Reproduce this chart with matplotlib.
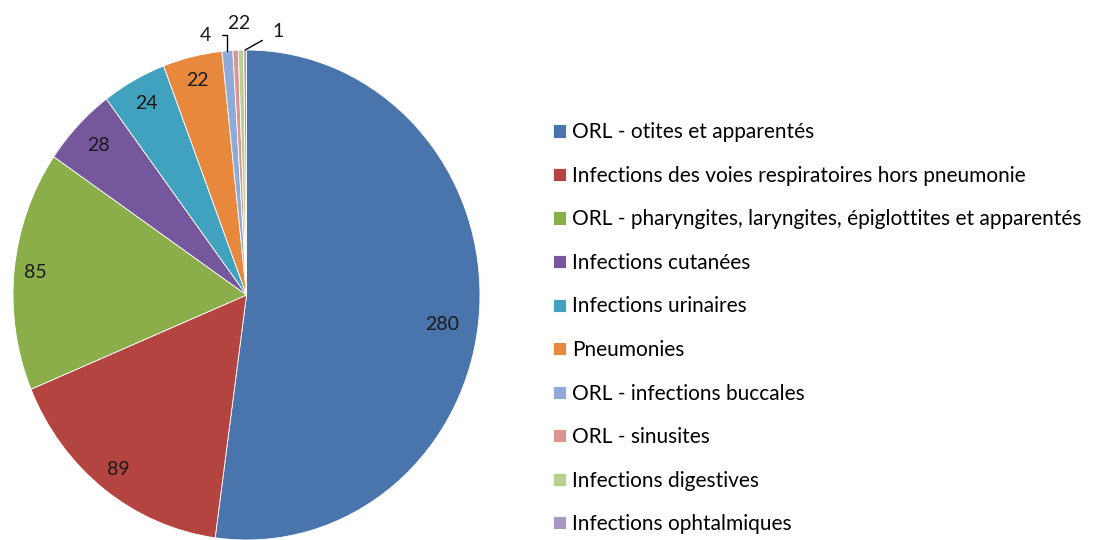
import matplotlib.pyplot as plt
import numpy as np

labels = ['ORL - otites et apparentés',
          'Infections des voies respiratoires hors pneumonie',
          'ORL - pharyngites, laryngites, épiglottites et apparentés',
          'Infections cutanées',
          'Infections urinaires',
          'Pneumonies',
          'ORL - infections buccales',
          'ORL - sinusites',
          'Infections digestives',
          'Infections ophtalmiques']
values = [280, 89, 85, 28, 24, 22, 4, 2, 2, 1]
colors = ['#4A74AC', '#B3443F', '#8CAE4A', '#74579C', '#40A2BE', '#E8883D',
          '#8FAAD6', '#D89593', '#BACF8F', '#A898C4']

plt.rcParams['font.family'] = ['Lato', 'DejaVu Sans']

fig = plt.figure(figsize=(11.01, 5.4), dpi=100)
ax = fig.add_axes([0, 0, 500 / 1101, 1])

wedges, _ = ax.pie(values, colors=colors, startangle=90, counterclock=False,
                   wedgeprops=dict(edgecolor='white', linewidth=0.6))

# pie is drawn slightly taller than wide in the reference
rx, ry = 233.5, 245.0
ax.set_aspect('auto')
ax.set_xlim(-246.5 / rx, (500 - 246.5) / rx)
ax.set_ylim(-245 / ry, 295 / ry)
ax.axis('off')

# inside labels: (radius, angle shift in degrees)
place = [(0.845, -4.2), (0.9, 0), (0.91, 0), (0.88, 0), (0.89, 0), (0.9, 0)]
for w, v, (d, sh) in zip(wedges, values, place):
    a = np.deg2rad((w.theta1 + w.theta2) / 2 + sh)
    ax.text(d * np.cos(a), d * np.sin(a), str(v), ha='center', va='center',
            fontsize=14, color='#1a1a1a')

# small slices labelled outside
out = [(-0.175, 1.06), (-0.058, 1.11), (-0.012, 1.11), (0.135, 1.075)]
lines = [True, False, False, True]
for w, v, (tx, ty), ln in zip(wedges[6:], values[6:], out, lines):
    a = np.deg2rad((w.theta1 + w.theta2) / 2)
    px, py = np.cos(a), np.sin(a)
    if ln:
        ax.annotate(str(v), xy=(px, py), xytext=(tx, ty), ha='center', va='center',
                    fontsize=14, color='#1a1a1a',
                    arrowprops=dict(arrowstyle='-', color='black', lw=1,
                                    shrinkA=6, shrinkB=0,
                                    connectionstyle='angle,angleA=0,angleB=90' if tx < 0 else 'arc3'))
    else:
        ax.text(tx, ty, str(v), ha='center', va='center', fontsize=14, color='#1a1a1a')

fig.legend(wedges, labels, loc='upper left', bbox_to_anchor=(545 / 1101, 1 - 114 / 540),
           frameon=False, fontsize=15, handlelength=0.6, handleheight=0.6,
           handletextpad=0.3, labelspacing=1.13, borderaxespad=0)

plt.savefig('out.png', dpi=100)
